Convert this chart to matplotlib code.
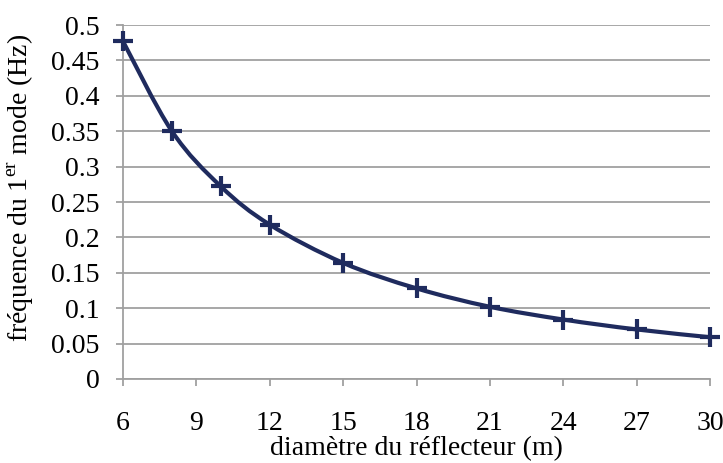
import matplotlib
matplotlib.use("Agg")
import matplotlib.pyplot as plt
import numpy as np
from matplotlib.path import Path
from matplotlib.patches import PathPatch

# Data
diametre = [6, 8, 10, 12, 15, 18, 21, 24, 27, 30]
frequence = [0.477, 0.350, 0.272, 0.218, 0.164, 0.128, 0.102, 0.084, 0.070, 0.059]
xticks = [6, 9, 12, 15, 18, 21, 24, 27, 30]
yticks = [0, 0.05, 0.1, 0.15, 0.2, 0.25, 0.3, 0.35, 0.4, 0.45, 0.5]
ytick_labels = ["0", "0.05", "0.1", "0.15", "0.2", "0.25", "0.3", "0.35", "0.4", "0.45", "0.5"]

plt.rcParams['font.family'] = ['Liberation Serif', 'DejaVu Serif']
plt.rcParams['mathtext.fontset'] = 'custom'
plt.rcParams['mathtext.rm'] = 'Liberation Serif'

color = '#1F2B5E'
grey = '#A0A0A0'
fs = 20

fig = plt.figure(figsize=(7.23, 4.63), dpi=100)
ax = fig.add_axes([123/723, 1-379/463, (710-123)/723, (379-25)/463])

# Smoothed line (Catmull-Rom style Bezier through data points, like Excel)
x = np.array(diametre, float)
y = np.array(frequence, float)
verts = [(x[0], y[0])]
codes = [Path.MOVETO]
t = 1/6
for i in range(len(x)-1):
    p0 = (x[i-1], y[i-1]) if i > 0 else (x[i], y[i])
    p1 = (x[i], y[i])
    p2 = (x[i+1], y[i+1])
    p3 = (x[i+2], y[i+2]) if i+2 < len(x) else (x[i+1], y[i+1])
    c1 = (p1[0] + (p2[0]-p0[0])*t, p1[1] + (p2[1]-p0[1])*t)
    c2 = (p2[0] - (p3[0]-p1[0])*t, p2[1] - (p3[1]-p1[1])*t)
    verts += [c1, c2, p2]
    codes += [Path.CURVE4]*3
ax.add_patch(PathPatch(Path(verts, codes), facecolor='none', edgecolor=color, lw=3.0, zorder=3))
ax.plot(diametre, frequence, linestyle='none', marker='+', markersize=15,
        markeredgewidth=3.0, color=color, zorder=4, clip_on=False)

ax.set_xlim(6, 30)
ax.set_ylim(0, 0.5)
ax.set_xticks(xticks)
ax.set_yticks(yticks)
ax.set_yticklabels(ytick_labels)
ax.yaxis.grid(True, color=grey, lw=1.3)
ax.set_axisbelow(True)
for s in ['top', 'right']:
    ax.spines[s].set_visible(False)
for s in ['left', 'bottom']:
    ax.spines[s].set_color(grey)
    ax.spines[s].set_linewidth(1.3)
ax.tick_params(axis='x', colors=grey, length=5, width=1.3, labelsize=fs,
               labelcolor='black', pad=18)
ax.tick_params(axis='y', colors=grey, length=5, width=1.3, labelsize=fs,
               labelcolor='black', pad=12)

ax.set_xlabel('diamètre du réflecteur (m)', fontsize=fs, labelpad=0)
ax.set_ylabel(r'fréquence du 1$^{\rm er}$ mode (Hz)', fontsize=fs)
ax.yaxis.set_label_coords(-0.148, 0.54)

fig.savefig('out.png', dpi=100)
